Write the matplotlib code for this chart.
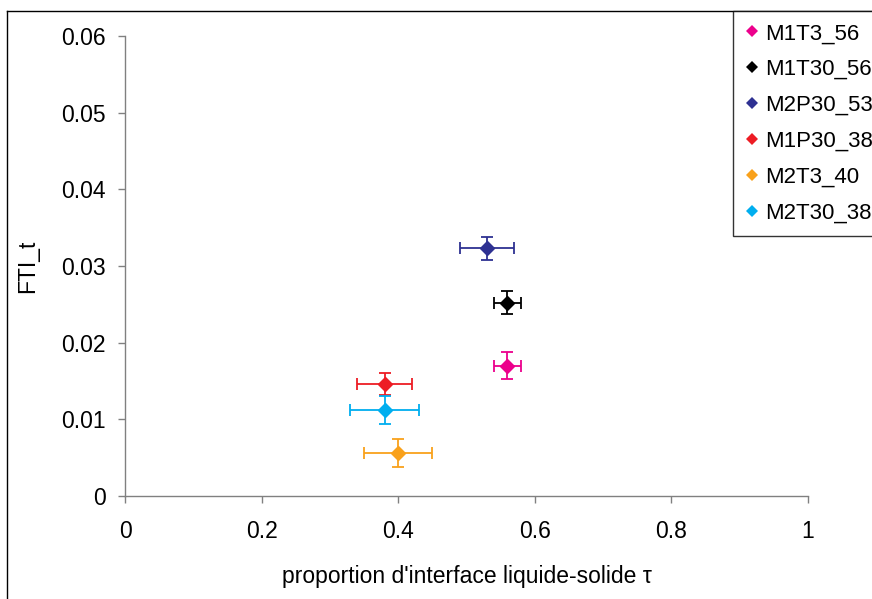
import matplotlib
matplotlib.use("Agg")
import matplotlib.pyplot as plt
from matplotlib.lines import Line2D

plt.rcParams['font.family'] = ['Liberation Sans', 'DejaVu Sans']

series = ["M1T3_56", "M1T30_56", "M2P30_53", "M1P30_38", "M2T3_40", "M2T30_38"]
colors = ["#EC008C", "#000000", "#2E3192", "#ED1C24", "#F9A11B", "#00AEEF"]
x_vals = [0.56, 0.56, 0.53, 0.38, 0.40, 0.38]
y_vals = [0.0170, 0.0252, 0.0323, 0.0146, 0.0056, 0.0112]
x_err = [0.02, 0.02, 0.04, 0.04, 0.05, 0.05]
y_err = [0.0018, 0.0015, 0.0015, 0.0014, 0.0018, 0.0018]
x_ticks = [0, 0.2, 0.4, 0.6, 0.8, 1]
x_ticklabels = ["0", "0.2", "0.4", "0.6", "0.8", "1"]
y_ticks = [0, 0.01, 0.02, 0.03, 0.04, 0.05, 0.06]
y_ticklabels = ["0", "0.01", "0.02", "0.03", "0.04", "0.05", "0.06"]

W, H = 872, 599
fig = plt.figure(figsize=(W / 100, H / 100), dpi=100)
fig.patch.set_facecolor("white")
ax = fig.add_axes([125 / W, 1 - 496 / H, (808 - 125) / W, (496 - 36) / H])

for name, c, x, y, xe, ye in zip(series, colors, x_vals, y_vals, x_err, y_err):
    ax.errorbar([x], [y], xerr=[xe], yerr=[ye], fmt='D', color=c, ecolor=c,
                markersize=7.5, elinewidth=1.3, capsize=4.3, capthick=1.3,
                markeredgecolor=c)

ax.set_xlim(0, 1)
ax.set_ylim(0, 0.06)
ax.set_xticks(x_ticks)
ax.set_xticklabels(x_ticklabels)
ax.set_yticks(y_ticks)
ax.set_yticklabels(y_ticklabels)
for s in ["top", "right"]:
    ax.spines[s].set_visible(False)
for s in ["left", "bottom"]:
    ax.spines[s].set_color("#808080")
    ax.spines[s].set_linewidth(1.0)
ax.tick_params(axis='both', direction='out', length=5, width=1.0, color="#808080",
               labelsize=16.5)
ax.tick_params(axis='y', pad=9)
ax.tick_params(axis='x', pad=12)
ax.set_xlabel("proportion d'interface liquide-solide \u03c4", fontsize=16.5, labelpad=16)
ax.set_ylabel("FTI_t", fontsize=16.5, labelpad=16)

handles = [Line2D([], [], marker='D', linestyle='none', color=c, markersize=6,
                  markeredgewidth=0) for c in colors]
leg = fig.legend(handles, series, loc='upper left',
                 bbox_to_anchor=(733 / W, 1 - 11 / H), bbox_transform=fig.transFigure,
                 frameon=True, fancybox=False, fontsize=16, handlelength=0.6,
                 handletextpad=0.3, labelspacing=0.67, borderpad=0.55, borderaxespad=0)
leg.get_frame().set_edgecolor("black")
leg.get_frame().set_linewidth(1.0)

# outer chart border (left and top visible)
fig.add_artist(Line2D([7 / W, 7 / W], [0, 1 - 11 / H], transform=fig.transFigure,
                      color="black", linewidth=1.0))
fig.add_artist(Line2D([7 / W, 1], [1 - 11 / H, 1 - 11 / H], transform=fig.transFigure,
                      color="black", linewidth=1.0))

fig.savefig("out.png", dpi=100)
